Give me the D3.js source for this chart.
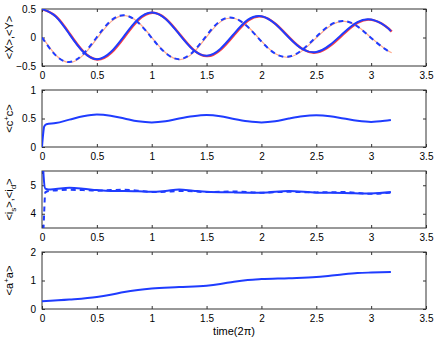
<!DOCTYPE html>
<html>
<head>
<meta charset="utf-8">
<script src="https://cdnjs.cloudflare.com/ajax/libs/d3/7.8.5/d3.min.js"></script>
<style>
  body { margin: 0; background: #fff; }
  svg { font-family: "Liberation Sans", Arial, sans-serif; }
  .tick text { font-size: 10px; fill: #000; }
</style>
</head>
<body>
<svg width="436" height="341"></svg>
<script>
// time grid for the oscillating quadratures (units of 2*pi)
let tXY = [0, 0.125, 0.25, 0.375, 0.5, 0.625, 0.75, 0.875, 1, 1.125, 1.25, 1.375, 1.5,
           1.625, 1.75, 1.875, 2, 2.125, 2.25, 2.375, 2.5, 2.625, 2.75, 2.875, 3, 3.125, 3.18];
let xMean = [0.50, 0.37, 0.06, -0.25, -0.38, -0.26, 0.03, 0.32, 0.44, 0.33, 0.06, -0.21, -0.32,
             -0.20, 0.065, 0.31, 0.374, 0.24, 0.0, -0.205, -0.255, -0.13, 0.084, 0.27, 0.315, 0.206, 0.11];
let yMean = [0, -0.314, -0.43, -0.29, 0.006, 0.29, 0.39, 0.265, -0.007, -0.27, -0.38, -0.255, 0.035,
             0.29, 0.34, 0.187, -0.07, -0.283, -0.335, -0.21, 0.013, 0.217, 0.29, 0.195, -0.008, -0.20, -0.26];

let tC = [0, 0.01, 0.02, 0.04, 0.125, 0.25, 0.375, 0.5, 0.625, 0.75, 0.875, 1, 1.125, 1.25, 1.375,
          1.5, 1.625, 1.75, 1.875, 2, 2.125, 2.25, 2.375, 2.5, 2.625, 2.75, 2.875, 3, 3.125, 3.18];
let cNum = [0, 0.22, 0.36, 0.40, 0.42, 0.48, 0.54, 0.57, 0.55, 0.50, 0.45, 0.43, 0.45, 0.50, 0.54,
            0.56, 0.54, 0.49, 0.45, 0.43, 0.45, 0.50, 0.54, 0.555, 0.54, 0.50, 0.46, 0.44, 0.46, 0.475];

let tI = [0, 0.015, 0.03, 0.06, 0.125, 0.25, 0.375, 0.5, 0.625, 0.75, 0.875, 1, 1.125, 1.25, 1.375,
          1.5, 1.75, 2, 2.25, 2.5, 2.75, 3, 3.18];
let iS = [6.5, 5.3, 4.88, 4.85, 4.87, 4.91, 4.88, 4.83, 4.80, 4.80, 4.79, 4.77, 4.80, 4.85, 4.81,
          4.77, 4.75, 4.74, 4.80, 4.74, 4.73, 4.71, 4.76];
let iD = [2.5, 3.6, 4.75, 4.80, 4.82, 4.84, 4.83, 4.81, 4.83, 4.84, 4.81, 4.76, 4.77, 4.80, 4.79,
          4.76, 4.78, 4.74, 4.77, 4.75, 4.76, 4.70, 4.74];

let tA = [0, 0.25, 0.5, 0.625, 0.75, 0.875, 1, 1.25, 1.5, 1.625, 1.75, 1.875, 2, 2.25, 2.5,
          2.625, 2.75, 2.875, 3, 3.18];
let aNum = [0.27, 0.33, 0.42, 0.50, 0.60, 0.67, 0.72, 0.77, 0.82, 0.88, 0.96, 1.02, 1.05, 1.08, 1.12,
            1.17, 1.22, 1.26, 1.28, 1.30];

let xTicks = [0, 0.5, 1, 1.5, 2, 2.5, 3, 3.5];

let left = 42, right = 426, panelH = 57;
let tops = [9, 90, 171, 252];
let blue = "#1f3cff";

let svg = d3.select("svg");

let xScale = d3.scaleLinear()
                .domain([0, 3.5])
                .range([left, right]);

let panels = [
    { domain: [-0.5, 0.5], ticks: [-0.5, 0, 0.5] },
    { domain: [0, 1], ticks: [0, 0.5, 1] },
    { domain: [3.5, 5.5], ticks: [4, 5] },
    { domain: [0, 2], ticks: [0, 1, 2] }
];

let yScales = panels.map((p, i) => d3.scaleLinear()
                .domain(p.domain)
                .range([tops[i] + panelH, tops[i]]));

let fmt = d => d === 0 ? "0" : (d < 0 ? "\u22120" + String(d).slice(2) : String(d)).replace("\u22120.", "\u22120.");

panels.forEach((p, i) => {
    let y = yScales[i];
    let g = svg.append("g");

    g.append("clipPath")
        .attr("id", "clip" + i)
        .append("rect")
        .attr("x", left)
        .attr("y", tops[i])
        .attr("width", right - left)
        .attr("height", panelH);

    // bottom axis with labels, top axis mirrored ticks
    g.append("g")
        .attr("transform", "translate(0," + (tops[i] + panelH) + ")")
        .call(d3.axisBottom(xScale).tickValues(xTicks).tickSizeInner(-3).tickSizeOuter(0).tickPadding(6)
              .tickFormat(d3.format("")));
    g.append("g")
        .attr("transform", "translate(0," + tops[i] + ")")
        .call(d3.axisTop(xScale).tickValues(xTicks).tickSizeInner(-3).tickSizeOuter(0).tickFormat(""));

    g.append("g")
        .attr("transform", "translate(" + left + ",0)")
        .call(d3.axisLeft(y).tickValues(p.ticks).tickSizeInner(-3).tickSizeOuter(0).tickPadding(6)
              .tickFormat(d => d < 0 ? "\u2212" + Math.abs(d) : String(d)));
    g.append("g")
        .attr("transform", "translate(" + right + ",0)")
        .call(d3.axisRight(y).tickValues(p.ticks).tickSizeInner(-3).tickSizeOuter(0).tickFormat(""));

    g.append("rect")
        .attr("x", left)
        .attr("y", tops[i])
        .attr("width", right - left)
        .attr("height", panelH)
        .attr("fill", "none")
        .attr("stroke", "#333")
        .attr("stroke-width", 1);
});

svg.selectAll(".domain").remove();
svg.selectAll(".tick line").attr("stroke", "#333");

function drawLine(panel, ts, vs, opts) {
    let y = yScales[panel];
    let line = d3.line()
        .x((d, i) => xScale(ts[i]))
        .y(d => y(d))
        .curve(opts.curve || d3.curveMonotoneX);
    svg.append("path")
        .datum(vs)
        .attr("clip-path", "url(#clip" + panel + ")")
        .attr("transform", opts.shift ? "translate(" + opts.shift + ")" : null)
        .attr("d", line)
        .attr("fill", "none")
        .attr("stroke", opts.color)
        .attr("stroke-width", opts.width)
        .attr("stroke-dasharray", opts.dash || null);
}

// panel 1: reference curves (red) under the blue ones
drawLine(0, tXY, yMean, { color: "#ffa88a", width: 1.2, curve: d3.curveNatural, shift: "0.8,0.4" });
drawLine(0, tXY, xMean, { color: "#ff4040", width: 2.4, curve: d3.curveNatural, shift: "0.8,0.4" });
drawLine(0, tXY, xMean, { color: blue, width: 2, curve: d3.curveNatural });
drawLine(0, tXY, yMean, { color: blue, width: 2, curve: d3.curveNatural, dash: "5,4" });

drawLine(1, tC, cNum, { color: blue, width: 2 });

drawLine(2, tI, iS, { color: blue, width: 2 });
drawLine(2, tI, iD, { color: blue, width: 2, dash: "5,4" });

drawLine(3, tA, aNum, { color: blue, width: 2 });

// y labels
let yLabels = [
    [["<X>,<Y>", 0]],
    [["<c", 0], ["+", -4, 8], ["c>", 4]],
    [["<i", 0], ["s", 3, 8], [">,<i", -3], ["d", 3, 8], [">", -3]],
    [["<a", 0], ["+", -4, 8], ["a>", 4]]
];

yLabels.forEach((parts, i) => {
    let cy = tops[i] + panelH / 2;
    let txt = svg.append("text")
        .attr("transform", "translate(13," + cy + ") rotate(-90)")
        .style("text-anchor", "middle")
        .style("font-size", "11px");
    parts.forEach(p => {
        txt.append("tspan")
            .attr("dy", p[1])
            .style("font-size", p[2] ? p[2] + "px" : null)
            .text(p[0]);
    });
});

svg.append("text")
    .attr("x", (left + right) / 2)
    .attr("y", 335)
    .style("text-anchor", "middle")
    .style("font-size", "11px")
    .text("time(2\u03c0)");
</script>
</body>
</html>
